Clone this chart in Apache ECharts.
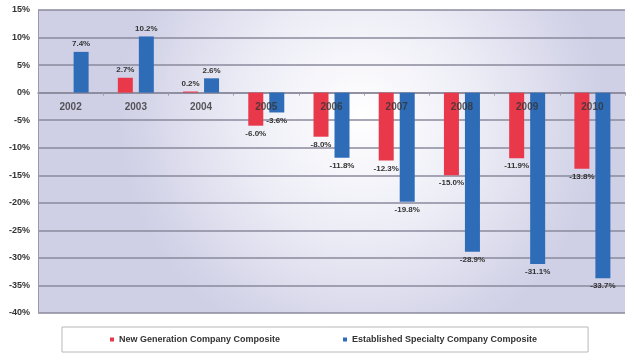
<!DOCTYPE html>
<html>
<head>
<meta charset="utf-8">
<script src="https://cdn.jsdelivr.net/npm/echarts@6/dist/echarts.min.js"></script>
<style>
  html, body { margin: 0; padding: 0; background: #ffffff; }
  #chart { width: 629px; height: 355px; }
</style>
</head>
<body>
<div id="chart"></div>
<script>
// Annual composite returns (%) by year
const years = ['2002', '2003', '2004', '2005', '2006', '2007', '2008', '2009', '2010'];
const newGeneration = [null, 2.7, 0.2, -6.0, -8.0, -12.3, -15.0, -11.9, -13.8];
const establishedSpecialty = [7.4, 10.2, 2.6, -3.6, -11.8, -19.8, -28.9, -31.1, -33.7];
const seriesNames = ['New Generation Company Composite', 'Established Specialty Company Composite'];

const chart = echarts.init(document.getElementById('chart'));

const font = 'Liberation Sans, Arial, sans-serif';

const valueLabel = {
  show: true,
  position: 'outside',
  fontFamily: font,
  fontSize: 8,
  fontWeight: 'bold',
  color: '#333',
  distance: 4,
  formatter: p => p.value.toFixed(1) + '%'
};

chart.setOption({
  animation: false,
  grid: {
    left: 38, right: 4, top: 10, bottom: 42,
    show: true,
    borderWidth: 0,
    backgroundColor: {
      type: 'radial', x: 0.55, y: 0.35, r: 0.8,
      colorStops: [
        { offset: 0, color: '#ffffff' },
        { offset: 0.5, color: '#ececf6' },
        { offset: 1, color: '#cfcfe6' }
      ]
    }
  },
  legend: {
    data: seriesNames,
    bottom: 3,
    left: 62,
    padding: [8, 51, 8, 48],
    itemGap: 63,
    itemWidth: 4,
    itemHeight: 4,
    icon: 'rect',
    backgroundColor: '#ffffff',
    borderColor: '#b8b8b8',
    borderWidth: 1,
    borderRadius: 0,
    textStyle: { fontFamily: font, fontSize: 9, fontWeight: 'bold', color: '#333' }
  },
  xAxis: {
    type: 'category',
    data: years,
    axisLine: { onZero: true, lineStyle: { color: '#8a8a9c', width: 1.5 } },
    axisTick: { show: true, length: 3, lineStyle: { color: '#9a9aaa' } },
    axisLabel: { show: false }
  },
  yAxis: {
    type: 'value',
    min: -40,
    max: 15,
    interval: 5,
    axisLine: { show: true, lineStyle: { color: '#9a9aaa', width: 1 } },
    axisTick: { show: false },
    splitLine: { lineStyle: { color: '#8a8a9c', width: 1.5 } },
    axisLabel: {
      margin: 8,
      fontFamily: font,
      fontSize: 9,
      fontWeight: 'bold',
      color: '#333',
      formatter: v => v + '%'
    }
  },
  series: [
    {
      name: seriesNames[0],
      type: 'bar',
      data: newGeneration,
      barWidth: 15,
      barGap: '40%',
      itemStyle: { color: '#e8384a' },
      label: valueLabel,
      z: 2
    },
    {
      name: seriesNames[1],
      type: 'bar',
      data: establishedSpecialty,
      barWidth: 15,
      itemStyle: { color: '#2e6cb8' },
      label: valueLabel,
      z: 2
    },
    {
      // Year labels sitting just below the zero line
      name: 'years',
      type: 'scatter',
      data: years.map(y => [y, 0]),
      symbolSize: 0,
      silent: true,
      z: 3,
      label: {
        show: true,
        position: 'bottom',
        distance: 10,
        fontFamily: font,
        fontSize: 10,
        fontWeight: 'bold',
        color: '#333',
        formatter: p => p.value[0]
      }
    }
  ]
});
</script>
</body>
</html>
